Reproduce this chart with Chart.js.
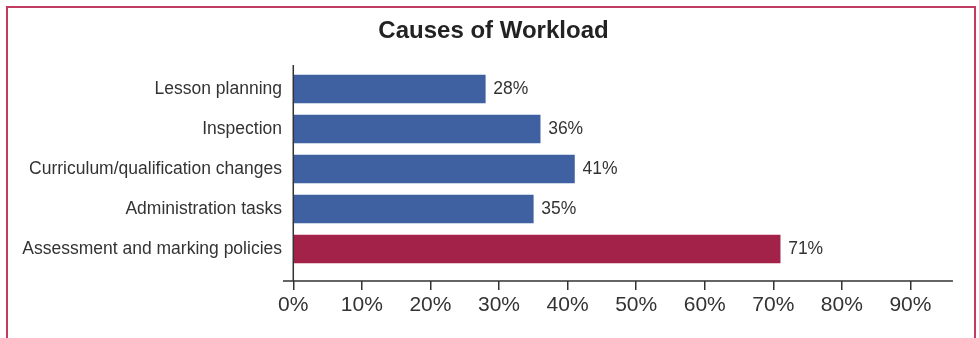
<!DOCTYPE html>
<html lang="en">
<head>
<meta charset="utf-8">
<title>Causes of Workload</title>
<script src="https://cdn.jsdelivr.net/npm/chart.js"></script>
<style>
  body { margin: 0; background: #fff; }
  #wrap { position: relative; width: 979px; height: 338px; overflow: hidden; }
  #frame {
    position: absolute; left: 6px; top: 6px; width: 966px; height: 340px;
    border: 2px solid #c23b60; border-bottom: none;
  }
  canvas { position: absolute; left: 0; top: 0; }
</style>
</head>
<body>
<div id="wrap">
  <div id="frame"></div>
  <canvas id="workload" width="979" height="338"></canvas>
</div>
<script>
const categories = [
  'Lesson planning',
  'Inspection',
  'Curriculum/qualification changes',
  'Administration tasks',
  'Assessment and marking policies'
];
const values = [28, 36, 41, 35, 71];
const barColors = ['#3f60a1', '#3f60a1', '#3f60a1', '#3f60a1', '#a32249'];
const xTicks = [0, 10, 20, 30, 40, 50, 60, 70, 80, 90];

const FONT = '"Liberation Sans", Arial, Helvetica, sans-serif';
const INK = '#333333';

// axis lines (x from -1.5 to 96.2, y at 0%) and the value labels beside the bars
const barLabels = {
  id: 'barLabels',
  afterDatasetsDraw(chart) {
    const ctx = chart.ctx;
    const x = chart.scales.x;
    const area = chart.chartArea;
    ctx.save();
    ctx.strokeStyle = INK;
    ctx.lineWidth = 1.5;
    ctx.beginPath();
    ctx.moveTo(x.getPixelForValue(0), area.top);
    ctx.lineTo(x.getPixelForValue(0), area.bottom);
    ctx.moveTo(x.getPixelForValue(-1.5), area.bottom);
    ctx.lineTo(x.getPixelForValue(96.2), area.bottom);
    ctx.stroke();

    ctx.font = '17.5px ' + FONT;
    ctx.fillStyle = INK;
    ctx.textAlign = 'left';
    ctx.textBaseline = 'middle';
    chart.getDatasetMeta(0).data.forEach((bar, i) => {
      ctx.fillText(values[i] + '%', bar.x + 8, bar.y);
    });
    ctx.restore();
  }
};

new Chart(document.getElementById('workload'), {
  type: 'bar',
  data: {
    datasets: [{
      data: values.map((v, i) => ({ x: v, y: i })),
      backgroundColor: barColors,
      borderWidth: 0,
      barThickness: 28
    }]
  },
  options: {
    indexAxis: 'y',
    responsive: false,
    animation: false,
    events: [],
    layout: { padding: { left: 8, right: 0, top: 0, bottom: 0 } },
    plugins: {
      legend: { display: false },
      tooltip: { enabled: false },
      title: {
        display: true,
        text: 'Causes of Workload',
        color: '#222',
        font: { family: FONT, size: 24, weight: 'bold', lineHeight: 1 },
        padding: { top: 19, bottom: 22 }
      }
    },
    scales: {
      x: {
        type: 'linear',
        min: -1.5,
        max: 100,
        afterBuildTicks(scale) {
          scale.ticks = xTicks.map(v => ({ value: v }));
        },
        afterFit(scale) { scale.height = 57; },
        grid: {
          display: true,
          drawOnChartArea: false,
          drawTicks: true,
          tickLength: 9,
          color: INK,
          lineWidth: 1.5
        },
        border: { display: false },
        ticks: {
          color: INK,
          padding: 3,
          maxRotation: 0,
          autoSkip: false,
          font: { family: FONT, size: 21 },
          callback: v => v + '%'
        }
      },
      y: {
        type: 'linear',
        reverse: true,
        offset: false,
        min: -0.6,
        max: 4.8,
        afterBuildTicks(scale) {
          scale.ticks = categories.map((c, i) => ({ value: i }));
        },
        afterFit(scale) { scale.width = 275; },
        grid: { display: false, drawTicks: false },
        border: { display: false },
        ticks: {
          color: INK,
          padding: 1,
          autoSkip: false,
          font: { family: FONT, size: 17.5 },
          callback: v => categories[v]
        }
      }
    }
  },
  plugins: [barLabels]
});
</script>
</body>
</html>
